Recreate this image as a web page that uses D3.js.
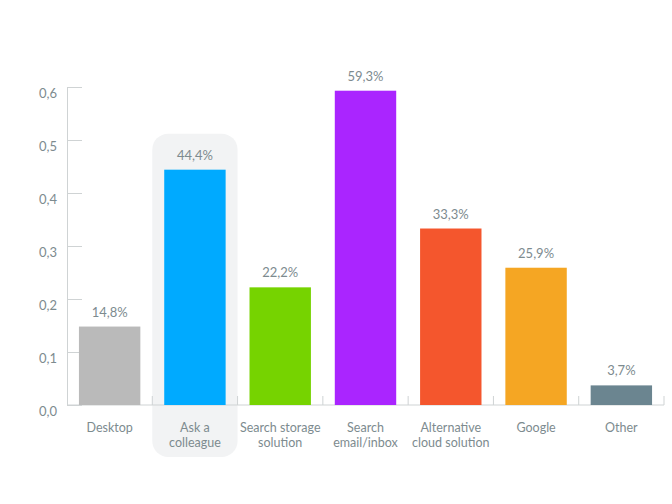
<!DOCTYPE html>
<html>
<head>
<meta charset="utf-8">
<script src="https://cdn.jsdelivr.net/npm/d3@7"></script>
<style>
  body { margin: 0; background: #fff; }
  svg { font-family: Lato, "Open Sans", sans-serif; }
</style>
</head>
<body>
<svg id="chart"></svg>
<script>
const categories = [
  ["Desktop"],
  ["Ask a", "colleague"],
  ["Search storage", "solution"],
  ["Search", "email/inbox"],
  ["Alternative", "cloud solution"],
  ["Google"],
  ["Other"]
];
const values = [0.148, 0.444, 0.222, 0.593, 0.333, 0.259, 0.037];
const colors = ["#bababa", "#00aaff", "#76d300", "#aa25ff", "#f4562d", "#f5a623", "#6b8590"];
const yTicks = [0, 0.1, 0.2, 0.3, 0.4, 0.5, 0.6];
const highlighted = 1;

const width = 672;
const height = 504;
const margin = { top: 87, right: 8, bottom: 99, left: 67 };

const svg = d3.select("#chart")
  .attr("width", width)
  .attr("height", height);

const locale = d3.formatLocale({ decimal: ",", thousands: ".", grouping: [3], currency: ["", "€"] });
const tickFmt = locale.format(".1f");
const pctFmt = locale.format(".1%");

const keys = categories.map((c, i) => i);

const x = d3.scaleBand()
  .domain(keys)
  .range([margin.left, width - margin.right]);

const y = d3.scaleLinear()
  .domain([0, 0.6])
  .range([height - margin.bottom, margin.top]);

const barW = x.bandwidth() * 0.72;

// highlight behind one category
svg.append("rect")
  .attr("x", x(highlighted))
  .attr("y", y(values[highlighted]) - 36)
  .attr("width", x.bandwidth())
  .attr("height", height - 47 - (y(values[highlighted]) - 36))
  .attr("rx", 16)
  .attr("fill", "#f2f3f4");

// y axis
const yAxis = svg.append("g")
  .attr("transform", `translate(${margin.left},0)`)
  .call(d3.axisRight(y).tickValues(yTicks).tickSize(15).tickFormat(""));
yAxis.select(".domain").attr("stroke", "#cfd3d4");
yAxis.selectAll(".tick line").attr("stroke", "#cfd3d4");

svg.append("g")
  .selectAll("text")
  .data(yTicks)
  .join("text")
  .attr("x", margin.left - 10)
  .attr("y", d => y(d) + 11)
  .attr("text-anchor", "end")
  .attr("fill", "#7d8b8f")
  .style("font-size", "13px")
  .text(d => tickFmt(d));

// x axis with boundary ticks pointing up
const xAxis = svg.append("g")
  .attr("transform", `translate(0,${y(0)})`);
xAxis.append("line")
  .attr("x1", margin.left)
  .attr("x2", width - margin.right)
  .attr("stroke", "#cfd3d4");
xAxis.selectAll(".sep")
  .data(keys.slice(1).concat([keys.length]))
  .join("line")
  .attr("class", "sep")
  .attr("x1", d => d < keys.length ? x(d) : x(keys.length - 1) + x.bandwidth())
  .attr("x2", d => d < keys.length ? x(d) : x(keys.length - 1) + x.bandwidth())
  .attr("y1", 0)
  .attr("y2", -9)
  .attr("stroke", "#cfd3d4");

// bars
svg.append("g")
  .selectAll("rect")
  .data(values)
  .join("rect")
  .attr("x", (d, i) => x(i) + (x.bandwidth() - barW) / 2)
  .attr("y", d => y(d))
  .attr("width", barW)
  .attr("height", d => y(0) - y(d))
  .attr("fill", (d, i) => colors[i]);

// value labels
svg.append("g")
  .selectAll("text")
  .data(values)
  .join("text")
  .attr("x", (d, i) => x(i) + x.bandwidth() / 2)
  .attr("y", d => y(d) - 10)
  .attr("text-anchor", "middle")
  .attr("fill", "#7d8b8f")
  .style("font-size", "13px")
  .text(d => pctFmt(d));

// category labels
svg.append("g")
  .selectAll("text")
  .data(categories)
  .join("text")
  .attr("x", (d, i) => x(i) + x.bandwidth() / 2)
  .attr("y", y(0) + 27)
  .attr("text-anchor", "middle")
  .attr("fill", "#7d8b8f")
  .style("font-size", "12.5px")
  .selectAll("tspan")
  .data(d => d)
  .join("tspan")
  .attr("x", function () { return d3.select(this.parentNode).attr("x"); })
  .attr("dy", (d, i) => i === 0 ? 0 : 15)
  .text(d => d);
</script>
</body>
</html>
